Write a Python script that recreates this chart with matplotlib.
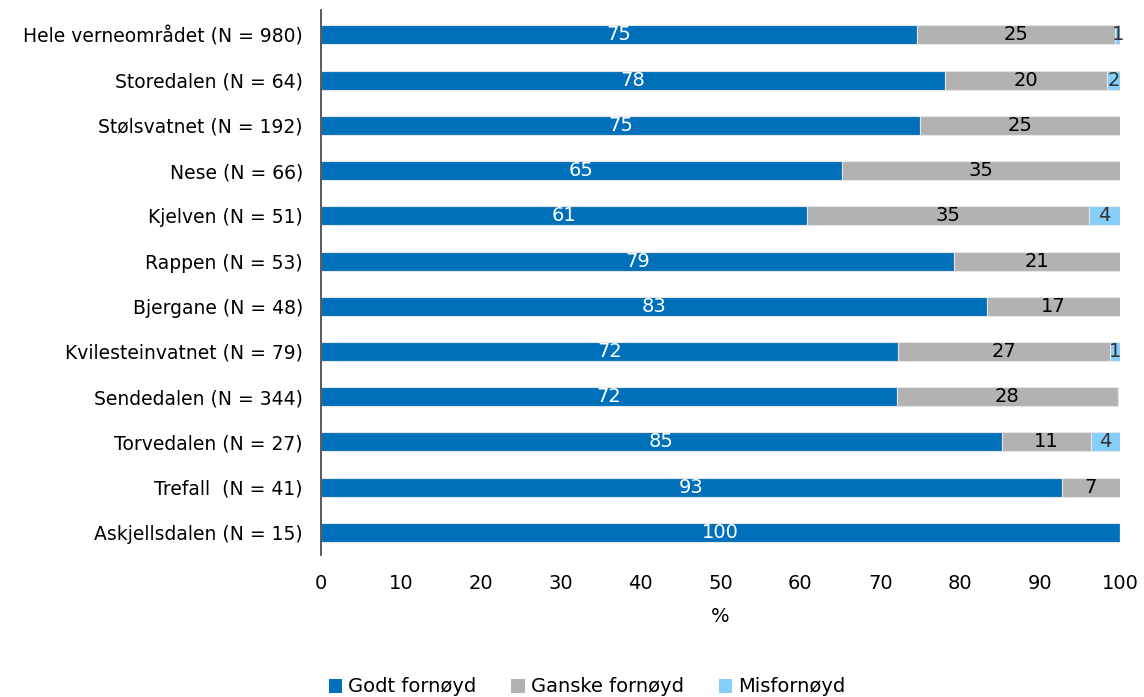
import matplotlib
matplotlib.use("Agg")
import matplotlib.pyplot as plt
import numpy as np

categories = ["Hele verneområdet (N = 980)", "Storedalen (N = 64)", "Stølsvatnet (N = 192)",
              "Nese (N = 66)", "Kjelven (N = 51)", "Rappen (N = 53)", "Bjergane (N = 48)",
              "Kvilesteinvatnet (N = 79)", "Sendedalen (N = 344)", "Torvedalen (N = 27)",
              "Trefall  (N = 41)", "Askjellsdalen (N = 15)"]
godt = [74.6, 78.1, 75.0, 65.2, 60.8, 79.2, 83.4, 72.2, 72.1, 85.2, 92.7, 100.0]
ganske = [24.8, 20.3, 25.0, 34.8, 35.3, 20.8, 16.6, 26.6, 27.6, 11.2, 7.3, 0.0]
mis = [0.6, 1.6, 0.0, 0.0, 3.9, 0.0, 0.0, 1.2, 0.0, 3.6, 0.0, 0.0]
series_names = ["Godt fornøyd", "Ganske fornøyd", "Misfornøyd"]
colors = ["#0070BA", "#B2B2B2", "#87CEFA"]
label_colors = ["white", "black", "#333333"]

plt.rcParams['font.family'] = ['DejaVu Sans']

fig = plt.figure(figsize=(11.44, 6.97), dpi=100)
ax = fig.add_axes([321/1144, 1-555/697, 799/1144, 545/697])

y = np.arange(len(categories))
left = np.zeros(len(categories))
for vals, name, col, lc in zip([godt, ganske, mis], series_names, colors, label_colors):
    vals = np.array(vals)
    ax.barh(y, vals, left=left, height=0.42, color=col, edgecolor="#E6E6E6",
            linewidth=0.8, label=name)
    for yi, (l, v) in enumerate(zip(left, vals)):
        if v > 0:
            ax.text(l + v/2, yi, f"{v:.0f}", ha="center", va="center",
                    color=lc, fontsize=14)
    left = left + vals

ax.set_xlim(0, 100)
ax.set_ylim(11.5, -0.55)
ax.set_yticks(y)
ax.set_yticklabels(categories, fontsize=13.5)
ax.set_xticks(np.arange(0, 101, 10))
ax.tick_params(axis='x', labelsize=14, length=0, pad=14)
ax.tick_params(axis='y', length=0, pad=13)
for s in ["top", "right", "bottom"]:
    ax.spines[s].set_visible(False)
ax.spines["left"].set_color("#404040")
ax.spines["left"].set_linewidth(1.2)
ax.set_xlabel("%", fontsize=14, labelpad=10)

leg = fig.legend(loc="center", bbox_to_anchor=(587/1144, 1-687/697), ncol=3, frameon=False,
                 fontsize=14, handlelength=0.7, handleheight=0.7, handletextpad=0.3,
                 columnspacing=1.8)
for h in leg.legend_handles:
    h.set_edgecolor("none")

fig.savefig("out.png", dpi=100)
